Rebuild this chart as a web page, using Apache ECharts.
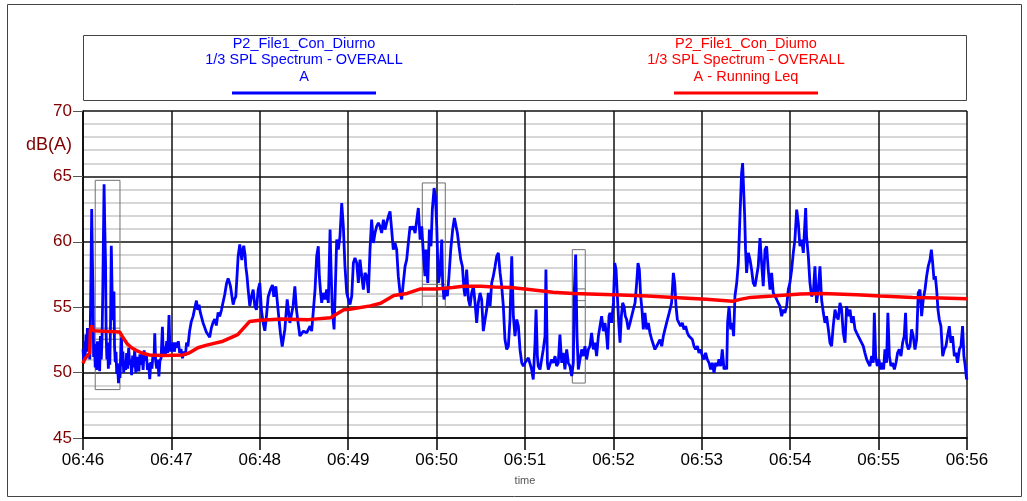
<!DOCTYPE html>
<html>
<head>
<meta charset="utf-8">
<script src="https://cdn.jsdelivr.net/npm/echarts@6/dist/echarts.min.js"></script>
<style>
  html, body { margin: 0; padding: 0; background: #ffffff; }
  #chart { width: 1027px; height: 501px; }
</style>
</head>
<body>
<div id="chart"></div>
<script>
// Time is in seconds from 06:46:00; levels in dB(A).
const timeTickLabels = ['06:46', '06:47', '06:48', '06:49', '06:50', '06:51', '06:52', '06:53', '06:54', '06:55', '06:56'];
const legendBlue = ['P2_File1_Con_Diurno', '1/3 SPL Spectrum - OVERALL', 'A'];
const legendRed = ['P2_File1_Con_Diumo', '1/3 SPL Spectrum - OVERALL', 'A - Running Leq'];

// Overall A-weighted level, 06:46 - 06:48:30
const levelPart1 = [
  [0,51.8],[0.5,50.9],[1,52.4],[1.5,51.2],[2,52.9],[2.5,51.6],[3,53.4],[3.5,52.0],[4,52.6],[4.6,51.0],[5.2,55.5],[5.9,62.5],[6.4,58.5],[6.8,56.0],[7.2,51.2],[7.8,52.2],[8.3,50.4],[8.8,51.8],[9.3,50.2],[9.8,52.4],[10.3,50.9],[10.8,51.6],[11.3,50.1],[11.8,52.8],[12.4,51.0],[12.9,52.5],[13.4,56.0],[14.3,64.4],[14.8,61.0],[15.3,58.4],[15.7,53.0],[16.2,51.0],[16.7,52.3],[17.2,50.3],[17.7,51.5],[18.2,50.6],[18.7,53.8],[19.2,59.7],[19.7,56.5],[20.2,54.0],[21,56.2],[21.4,52.0],[21.9,50.8],[22.4,51.6],[22.9,49.9],[23.4,50.7],[24.1,49.2],[24.6,50.4],[25.1,49.6],[25.6,51.2],[26.1,52.7],[26.6,50.5],[27.1,51.6],[27.6,50.0],[28.3,50.9],[29,50.2],[29.6,51.5],[30.3,50.3],[31,51.9],[31.7,50.6],[32.4,51.0],[33,49.8],[33.7,51.3],[34.4,50.4],[35.1,51.8],[35.8,50.0],[36.5,50.8],[37.2,51.2],[37.9,50.1],[38.6,51.4],[39.3,50.6],[40,51.5],[40.8,50.2],[41.5,51.7],[42.2,50.9],[43,51.4],[43.8,50.2],[44.6,50.7],[45.3,49.5],[46,50.8],[46.8,50.3],[47.5,51.4],[48.2,51.0],[48.7,53.0],[49.3,50.9],[50,50.3],[50.8,51.0],[51.5,49.7],[52.2,50.9],[53,51.1],[53.9,53.5],[54.5,51.3],[55.2,52.0],[56,51.2],[56.8,52.4],[57.5,51.5],[58.4,54.4],[59,51.6],[59.7,52.2],[60.4,51.6],[61.1,52.3],[62,51.6],[63,52.3],[63.8,51.9],[64.7,52.4],[65.6,51.5],[66.5,51.8],[67.5,51.1],[68.5,51.6],[69.5,51.3],[70.3,52.3],[71.2,52.0],[72.4,53.2],[73.5,53.9],[74.7,54.3],[75.8,54.9],[77,55.5],[77.8,54.8],[78.8,55.2],[79.6,54.6],[80.4,54.6],[81.5,53.8],[82.6,53.9],[83.7,53.1],[84.9,53.2],[86,52.7],[87.1,53.4],[88.2,53.8],[89.4,54.1],[90.5,53.6],[91.7,54.6],[92.8,54.3],[94,54.8],[95.1,55.4],[96.2,55.97],[97.4,56.8],[98.5,57.2],[99.4,56.9],[100.1,56.6],[101,55.9],[101.9,55.2],[102.8,55.6],[103.7,55.8],[104.6,57.5],[105.3,58.9],[106.4,59.8],[107.2,59.1],[107.8,58.6],[108.4,59.3],[109.1,59.7],[110,59.0],[110.5,58.1],[111.3,57.4],[112.1,56.35],[113.2,55.1],[114.3,55.8],[115.5,56.35],[116.6,55.1],[117.7,54.8],[118.9,56.35],[120,56.85],[121.1,54.8],[122.3,53.8],[123.4,53.2],[124.5,54.3],[125.7,55.8],[127.2,56.35],[128.6,56.7],[129.5,55.8],[130.9,56.6],[132.4,54.8],[134,53.0],[135.2,52.0],[137,53.3],[138.6,55.6],[140.4,53.8],[142.6,55.1],[143.8,56.6],[144.9,54.8],[146,53.8],[147.2,52.8]
];

// 06:48:30 - 06:51
const levelPart2 = [
  [149.6,53.17],[151.8,53.04],[154.1,53.55],[155.2,53.17],[156.4,54.82],[157.5,56.35],[158.6,58.89],[159.7,59.66],[160.4,57.37],[161.3,56.09],[162.0,55.33],[163.1,56.09],[164.3,55.59],[165.4,56.35],[166.5,55.33],[167.7,60.93],[168.3,58.13],[169.2,54.82],[170.4,53.30],[171.1,55.84],[172.2,60.17],[173.3,59.40],[174.4,60.42],[175.6,62.96],[176.7,61.18],[177.8,58.13],[179.0,56.09],[180.1,55.59],[181.2,55.20],[182.4,55.84],[183.5,58.38],[184.6,58.77],[185.8,58.38],[186.9,56.86],[188.0,58.64],[189.2,57.37],[190.3,56.35],[191.4,57.62],[192.6,57.37],[193.7,56.09],[194.8,59.40],[195.9,61.69],[197.1,59.91],[198.2,60.67],[199.3,61.18],[200.5,61.44],[201.6,61.18],[202.7,60.67],[203.9,61.69],[205.0,60.93],[206.1,61.44],[207.3,61.95],[208.4,62.33],[209.5,60.93],[210.6,59.40],[211.8,59.91],[212.9,59.40],[214.0,57.37],[215.2,56.09],[216.3,55.59],[217.4,56.86],[218.6,58.13],[219.7,58.64],[220.8,59.91],[222.0,61.18],[223.1,60.93],[224.2,61.18],[225.4,60.67],[226.5,60.67],[227.6,62.58],[228.8,60.17],[229.9,61.18],[231.0,59.15],[232.1,57.37],[232.8,59.40],[234.0,56.86],[235.1,60.93],[236.2,59.66],[237.1,62.46],[238.3,64.11],[239.2,63.47],[240.1,61.18],[241.2,56.86],[242.3,57.62],[243.5,60.17],[244.1,56.86],[245.0,55.59],[246.2,56.35],[247.3,55.84],[248.4,57.37],[249.6,59.40],[250.9,60.93],[252.1,61.82],[253.2,61.18],[254.1,60.67],[255.2,59.66],[256.4,58.64],[257.5,58.13],[258.6,56.35],[259.3,55.84],[260.4,57.88],[261.6,55.59],[262.7,55.08],[263.8,56.09],[265.0,56.60],[266.1,55.33],[267.2,53.80],[268.3,55.33],[269.5,56.09],[270.6,55.59],[271.7,53.17],[272.9,54.06],[274.0,54.82],[275.1,56.09],[276.3,55.08],[277.4,56.86],[278.5,57.37],[279.7,58.13],[280.8,58.89],[281.9,59.15],[283.1,57.62],[284.2,56.60],[285.3,55.08],[286.4,52.53],[287.6,51.77],[288.7,52.02],[289.8,54.06],[291.0,58.89],[292.1,54.31],[293.2,52.79],[294.4,54.06],[295.5,53.55],[296.6,51.77],[297.8,50.75],[298.9,50.50]
];

// 06:51 - 06:53:30
const levelPart3 = [
  [300.0,50.75],[302.3,51.13],[304.5,50.24],[305.6,49.48],[306.8,52.28],[307.5,54.82],[308.4,51.26],[309.0,50.50],[310.2,50.24],[311.3,51.01],[312.4,51.77],[313.6,52.79],[314.2,57.88],[315.2,50.75],[315.8,50.24],[317.0,50.24],[318.1,51.01],[319.2,50.75],[320.4,51.26],[321.5,50.50],[322.6,50.75],[323.7,52.91],[324.9,50.75],[326.0,51.51],[327.1,50.24],[328.3,51.77],[329.4,50.75],[330.5,50.50],[331.7,49.73],[332.8,50.75],[333.5,56.35],[334.4,59.02],[335.3,52.79],[336.2,50.24],[337.3,51.01],[338.5,51.77],[339.6,51.26],[340.7,52.02],[341.8,51.01],[343.0,51.77],[344.1,52.02],[345.2,53.04],[346.4,51.77],[347.5,52.28],[348.6,51.26],[349.8,52.79],[350.9,53.55],[352.0,54.31],[353.2,53.17],[354.3,53.80],[355.4,52.79],[356.1,51.77],[357.0,54.31],[357.7,54.57],[358.8,53.80],[360.0,55.33],[360.9,58.38],[361.8,57.88],[362.7,55.84],[363.6,53.80],[364.5,52.28],[365.4,54.31],[366.3,55.33],[367.2,55.08],[368.1,54.31],[369.0,54.06],[370.1,53.30],[371.3,53.80],[372.4,54.31],[373.5,54.82],[374.7,55.33],[375.8,56.86],[376.7,58.38],[377.6,57.88],[378.5,55.84],[379.4,54.82],[380.3,53.30],[381.4,54.57],[382.6,53.30],[383.7,53.80],[384.8,53.04],[386.0,52.53],[387.1,52.53],[388.2,51.77],[389.4,52.02],[390.5,52.28],[391.6,52.53],[392.8,52.02],[393.9,52.79],[395.0,53.30],[396.1,53.80],[397.3,54.31],[398.4,54.82],[399.5,55.33],[400.7,57.62],[401.6,56.86],[402.5,55.08],[403.4,54.06],[404.5,53.80],[405.6,53.55],[406.8,53.80],[407.9,53.30],[409.0,53.55],[410.2,53.04],[411.3,52.79],[412.4,52.79],[413.6,52.53],[414.7,52.02],[415.8,51.77],[417.0,52.02],[418.1,51.51],[419.2,51.77],[420.4,51.26],[421.5,51.01],[422.6,51.51],[423.7,51.01],[424.9,50.75],[426.0,50.24],[427.1,50.75],[428.3,49.99],[429.4,50.75],[430.5,50.50],[431.7,51.01],[432.8,50.50],[433.9,51.77],[435.1,50.24],[436.2,50.50],[436.9,50.24],[437.5,53.80],[438.5,55.08],[439.6,53.30],[440.7,53.80],[441.6,52.79],[442.5,55.84],[443.7,56.86],[444.8,58.38],[445.9,61.95],[447.0,65.25],[447.7,66.02]
];

// 06:53:30 - 06:56
const levelPart4 = [
  [449.1,61.95],[449.7,59.40],[450.4,57.62],[451.6,59.15],[452.7,58.64],[453.8,57.88],[454.9,56.86],[456.1,56.60],[457.2,57.37],[458.3,58.13],[459.5,60.29],[460.6,58.38],[461.7,56.60],[462.9,59.40],[464.0,59.66],[465.1,57.88],[466.3,56.35],[467.4,57.62],[468.5,56.09],[469.7,55.84],[470.8,55.59],[471.9,55.33],[473.0,55.08],[474.2,54.31],[475.3,54.82],[476.4,54.57],[477.6,55.08],[478.7,56.35],[479.8,56.86],[481.0,57.88],[482.1,59.15],[483.2,60.17],[484.4,62.46],[485.5,61.44],[486.6,59.66],[487.8,60.17],[488.9,59.15],[490.5,62.58],[491.1,60.42],[492.3,58.89],[493.4,56.86],[494.5,55.84],[495.7,56.09],[496.8,58.13],[497.9,55.33],[499.1,56.35],[500.2,58.13],[501.3,55.59],[502.5,54.57],[503.6,53.80],[504.7,54.31],[505.9,53.30],[507.0,52.28],[508.1,52.02],[509.2,53.55],[510.4,54.82],[511.5,54.31],[512.6,54.06],[513.8,55.33],[514.9,54.82],[516.0,53.04],[517.2,52.28],[518.3,55.08],[519.4,54.31],[520.6,54.82],[521.7,53.80],[522.8,54.31],[524.0,53.30],[525.1,53.04],[526.2,52.79],[527.3,52.79],[528.5,52.28],[529.6,52.02],[530.7,51.51],[531.9,51.01],[533.0,50.75],[534.1,50.50],[535.3,51.26],[536.4,50.75],[537.1,54.57],[538.0,51.26],[539.1,50.50],[540.2,51.01],[541.4,50.24],[542.5,50.75],[543.4,50.24],[544.3,51.77],[545.4,50.75],[546.3,54.57],[547.3,51.26],[548.4,50.50],[549.5,50.75],[550.7,50.24],[551.8,50.75],[552.9,51.51],[554.0,51.77],[555.2,51.26],[556.3,52.28],[557.4,52.79],[558.3,54.57],[559.0,52.28],[560.2,51.77],[561.3,52.02],[562.4,53.30],[563.5,52.79],[564.7,51.77],[565.8,52.53],[566.9,56.09],[568.1,56.35],[569.2,54.31],[570.3,55.59],[571.5,56.35],[572.6,57.37],[573.7,58.13],[574.9,58.64],[575.8,59.40],[576.7,58.38],[577.6,57.11],[578.5,57.37],[579.4,56.35],[580.3,54.82],[581.2,54.06],[582.3,53.55],[583.5,51.26],[584.6,51.77],[585.7,52.02],[586.8,52.79],[588.0,53.55],[589.1,52.28],[590.2,52.79],[591.4,51.26],[592.5,51.51],[593.6,50.75],[594.8,51.77],[595.9,52.02],[597.0,53.55],[597.9,51.26],[598.8,50.50],[599.7,49.48],[600,49.6]
];

// Running Leq
const runningLeq = [
  [0,50.7],[1,51.0],[3,51.3],[4.5,51.5],[5,53.3],[6,53.6],[7,53.2],[25,53.1],[27,52.7],[30,52.2],[33,51.9],[36,51.7],[40,51.5],[45,51.35],[55,51.3],[68,51.35],[72,51.5],[78,51.9],[84,52.1],[95,52.4],[105,52.9],[109,53.4],[113,53.9],[120,54.0],[135,54.1],[153,54.05],[168,54.2],[177,54.8],[181,54.85],[195,55.1],[202,55.3],[211,55.9],[220,56.05],[229,56.4],[240,56.4],[251,56.5],[258,56.6],[270,56.6],[279,56.55],[290,56.5],[300,56.4],[319,56.15],[333,56.05],[360,55.95],[383,55.85],[401,55.75],[423,55.6],[441,55.45],[446,55.6],[453,55.75],[468,55.85],[487,56.0],[502,56.05],[525,55.95],[541,55.85],[563,55.75],[582,55.7],[600,55.65]
];

// Marked event windows: start/end (s), min/max (dB), upper/lower reference lines (dB)
const eventStart = [8.3, 230.3, 332.1];
const eventEnd = [25.1, 245.9, 340.9];
const eventMin = [48.7, 55.0, 49.2];
const eventMax = [64.7, 64.5, 59.4];
const eventUpper = [53.4, 56.75, 56.4];
const eventLower = [52.55, 55.85, 55.5];

const levelSeries = levelPart1.concat(levelPart2, levelPart3, levelPart4);
const eventData = eventStart.map((s, i) => [s, eventEnd[i], eventMin[i], eventMax[i], eventUpper[i], eventLower[i]]);

const chart = echarts.init(document.getElementById('chart'), null, { renderer: 'canvas' });

const darkRed = '#800000';
const labelFont = 'Arial, "Liberation Sans", sans-serif';

function legendBlock(lines, cx, color) {
  const items = lines.map((t, i) => ({
    type: 'text',
    x: cx, y: 44 + i * 16.3,
    style: { text: t, fill: color, font: '14.5px ' + labelFont, align: 'center', verticalAlign: 'middle' }
  }));
  items.push({
    type: 'line',
    shape: { x1: cx - 72, y1: 93, x2: cx + 72, y2: 93 },
    style: { stroke: color, lineWidth: 3 }
  });
  return items;
}

chart.setOption({
  animation: false,
  backgroundColor: '#ffffff',
  grid: { left: 83, right: 60, top: 111, bottom: 63, containLabel: false },
  xAxis: {
    type: 'value',
    min: 0, max: 600, interval: 60,
    axisLine: { show: true, onZero: false, lineStyle: { color: '#000', width: 1.5 } },
    axisTick: { show: true, inside: false, length: 12, lineStyle: { color: '#000', width: 1.5 } },
    axisLabel: {
      color: '#000', fontSize: 17, fontFamily: labelFont, margin: 14,
      showMinLabel: true, showMaxLabel: true,
      formatter: v => timeTickLabels[Math.round(v / 60)]
    },
    splitLine: { show: true, lineStyle: { color: '#111', width: 1.5 } }
  },
  yAxis: {
    type: 'value',
    min: 45, max: 70, interval: 5,
    axisLine: { show: true, lineStyle: { color: '#000', width: 1.5 } },
    axisTick: { show: true, inside: false, length: 10, lineStyle: { color: '#555', width: 1 } },
    axisLabel: { color: darkRed, fontSize: 17, fontFamily: labelFont, margin: 11 },
    splitLine: { show: true, lineStyle: { color: '#111', width: 1.5 } },
    minorTick: { show: false, splitNumber: 5 },
    minorSplitLine: { show: true, lineStyle: { color: '#d6d6d6', width: 1.8 } }
  },
  series: [
    {
      type: 'custom',
      name: 'events',
      data: eventData,
      encode: { x: [0, 1], y: [2, 3] },
      z: 1,
      renderItem: (params, api) => {
        const tl = api.coord([api.value(0), api.value(3)]);
        const br = api.coord([api.value(1), api.value(2)]);
        const yU = api.coord([api.value(0), api.value(4)])[1];
        const yL = api.coord([api.value(0), api.value(5)])[1];
        const st = { stroke: '#707070', lineWidth: 1, fill: null };
        return {
          type: 'group',
          children: [
            { type: 'rect', shape: { x: tl[0], y: tl[1], width: br[0] - tl[0], height: br[1] - tl[1] }, style: st },
            { type: 'line', shape: { x1: tl[0], y1: yU, x2: br[0], y2: yU }, style: st },
            { type: 'line', shape: { x1: tl[0], y1: yL, x2: br[0], y2: yL }, style: st }
          ]
        };
      }
    },
    {
      type: 'line',
      name: 'A',
      data: levelSeries,
      showSymbol: false,
      z: 3,
      lineStyle: { color: '#0000ff', width: 2.8 },
      emphasis: { disabled: true }
    },
    {
      type: 'line',
      name: 'A - Running Leq',
      data: runningLeq,
      showSymbol: false,
      z: 4,
      lineStyle: { color: '#ff0000', width: 3.5 },
      emphasis: { disabled: true }
    }
  ],
  graphic: [
    { type: 'rect', shape: { x: 7.5, y: 4.5, width: 1014, height: 492 }, style: { fill: null, stroke: '#444', lineWidth: 1 } },
    { type: 'rect', shape: { x: 83.5, y: 35.5, width: 883, height: 65 }, style: { fill: null, stroke: '#444', lineWidth: 1 } },
    ...legendBlock(legendBlue, 304, '#0000ff'),
    ...legendBlock(legendRed, 746, '#ff0000'),
    { type: 'text', x: 72, y: 145, style: { text: 'dB(A)', fill: darkRed, font: '18px ' + labelFont, align: 'right', verticalAlign: 'middle' } },
    { type: 'text', x: 525, y: 481, style: { text: 'time', fill: '#555', font: '11px ' + labelFont, align: 'center', verticalAlign: 'middle' } }
  ]
});
</script>
</body>
</html>
